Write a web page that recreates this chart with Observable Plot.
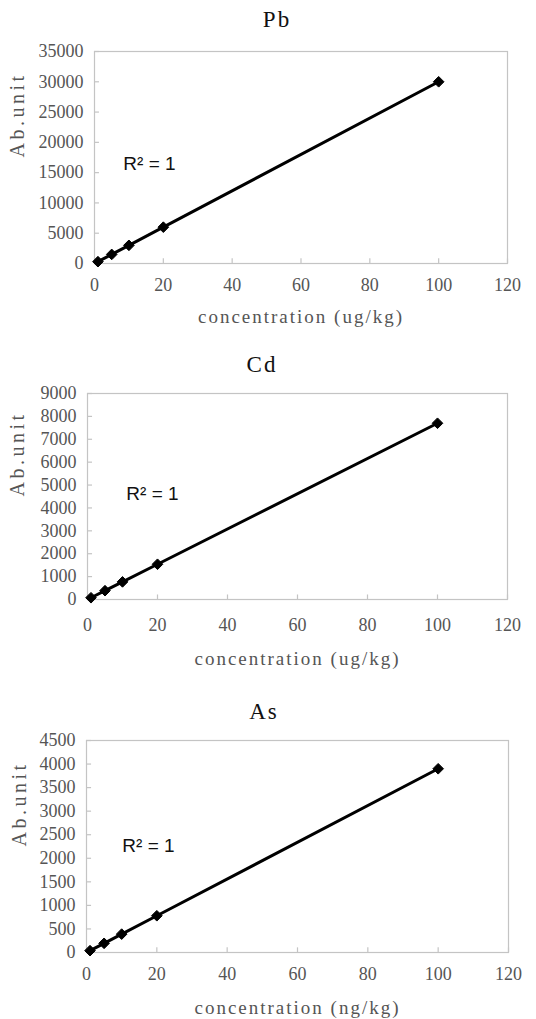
<!DOCTYPE html>
<html>
<head>
<meta charset="utf-8">
<script src="https://cdn.jsdelivr.net/npm/d3@7"></script>
<script src="https://cdn.jsdelivr.net/npm/@observablehq/plot@0.6"></script>
<style>
  html, body { margin: 0; padding: 0; background: #fff; }
  body { position: relative; width: 536px; height: 1019px; overflow: hidden; }
  .title { position: absolute; font-family: "Liberation Serif", "DejaVu Serif", serif; font-size: 23px; letter-spacing: 2px; color: #111; transform: translate(-50%, -50%); white-space: nowrap; }
  .panel { position: absolute; left: 0; }
</style>
</head>
<body>
<script>
// concentrations (x)
const concentration = [1, 5, 10, 20, 100];
// series values (Ab.unit)
const pbValues = [300, 1500, 3000, 6000, 30000];
const cdValues = [77, 385, 770, 1540, 7700];
const asValues = [39, 195, 390, 780, 3900];
// tick labels
const xTicks = [0, 20, 40, 60, 80, 100, 120];
const pbTicks = [0, 5000, 10000, 15000, 20000, 25000, 30000, 35000];
const cdTicks = [0, 1000, 2000, 3000, 4000, 5000, 6000, 7000, 8000, 9000];
const asTicks = [0, 500, 1000, 1500, 2000, 2500, 3000, 3500, 4000, 4500];
// titles and labels
const titles = ["Pb", "Cd", "As"];
const xLabels = ["concentration (ug/kg)", "concentration (ug/kg)", "concentration (ng/kg)"];
const yLabel = "Ab.unit";
const r2Label = "R\u00b2 = 1";

const panels = [
  {title: titles[0], values: pbValues, yTicks: pbTicks, xLabel: xLabels[0],
   frameTop: 51, frameBottom: 263, left: 94, right: 507, titleX: 277, titleY: 20,
   xTickOff: 25, xLabelOff: 53, yLabelX: 17, r2dx: 55, r2dy: 112},
  {title: titles[1], values: cdValues, yTicks: cdTicks, xLabel: xLabels[1],
   frameTop: 393, frameBottom: 599, left: 87, right: 507, titleX: 262, titleY: 365,
   xTickOff: 29, xLabelOff: 59, yLabelX: 17, r2dx: 65, r2dy: 100},
  {title: titles[2], values: asValues, yTicks: asTicks, xLabel: xLabels[2],
   frameTop: 740, frameBottom: 952, left: 86, right: 508, titleX: 264, titleY: 712,
   xTickOff: 25, xLabelOff: 55, yLabelX: 19, r2dx: 62, r2dy: 105}
];

const serif = "Liberation Serif, DejaVu Serif, serif";
const gray = "#555";
const lineGray = "#c4c4c4";

for (const p of panels) {
  const t = document.createElement("div");
  t.className = "title";
  t.style.left = p.titleX + "px";
  t.style.top = p.titleY + "px";
  t.textContent = p.title;
  document.body.appendChild(t);

  const data = concentration.map((c, i) => ({x: c, y: p.values[i]}));
  const yMax = p.yTicks[p.yTicks.length - 1];
  const svgTop = p.frameTop - 12;
  const marginTop = 12;
  const marginBottom = 70;
  const height = (p.frameBottom - p.frameTop) + marginTop + marginBottom;

  const chart = Plot.plot({
    width: 536,
    height,
    marginTop,
    marginBottom,
    marginLeft: p.left,
    marginRight: 536 - p.right,
    style: {background: "transparent", overflow: "visible", fontSize: "18px", fontFamily: serif, color: gray},
    x: {domain: [0, 120]},
    y: {domain: [0, yMax]},
    marks: [
      Plot.frame({stroke: lineGray, strokeWidth: 1.2}),
      // inward tick marks
      Plot.ruleX(xTicks, {x: d => d, y1: 0, y2: yMax * 0.022, stroke: lineGray, strokeWidth: 1.2}),
      Plot.ruleY(p.yTicks, {y: d => d, x1: 0, x2: 120 * 0.012, stroke: lineGray, strokeWidth: 1.2}),
      Plot.axisX(xTicks, {tickSize: 0, tickPadding: p.xTickOff - 10, tickFormat: d => String(d), fill: gray, label: null}),
      Plot.axisY(p.yTicks, {tickSize: 0, tickPadding: 11, tickFormat: d => String(d), fill: gray, label: null}),
      Plot.line(data, {x: "x", y: "y", stroke: "#000", strokeWidth: 3}),
      Plot.dot(data, {x: "x", y: "y", symbol: "diamond2", r: 4.8, fill: "#000", stroke: "#000", strokeWidth: 1}),
      Plot.text([p.xLabel], {text: d => d, frameAnchor: "bottom", dy: p.xLabelOff, fontSize: 19, fontFamily: serif, fill: gray, lineAnchor: "middle"}),
      Plot.text([yLabel], {text: d => d, frameAnchor: "left", dx: p.yLabelX - p.left, rotate: -90, fontSize: 20, fontFamily: serif, fill: gray, lineAnchor: "middle"}),
      Plot.text([r2Label], {text: d => d, frameAnchor: "top-left", dx: p.r2dx, dy: p.r2dy, fontSize: 19, fontFamily: "Liberation Sans, Arial, sans-serif", fill: "#111", textAnchor: "middle", lineAnchor: "middle"})
    ]
  });
  // widen letter spacing of the axis titles (the reference font is wide)
  d3.select(chart).selectAll("text").each(function() {
    const s = this.textContent;
    if (s === p.xLabel) this.style.letterSpacing = "2px";
    else if (s === yLabel) this.style.letterSpacing = "3.5px";
  });
  const wrap = document.createElement("div");
  wrap.className = "panel";
  wrap.style.top = svgTop + "px";
  wrap.appendChild(chart);
  document.body.appendChild(wrap);
}
</script>
</body>
</html>
